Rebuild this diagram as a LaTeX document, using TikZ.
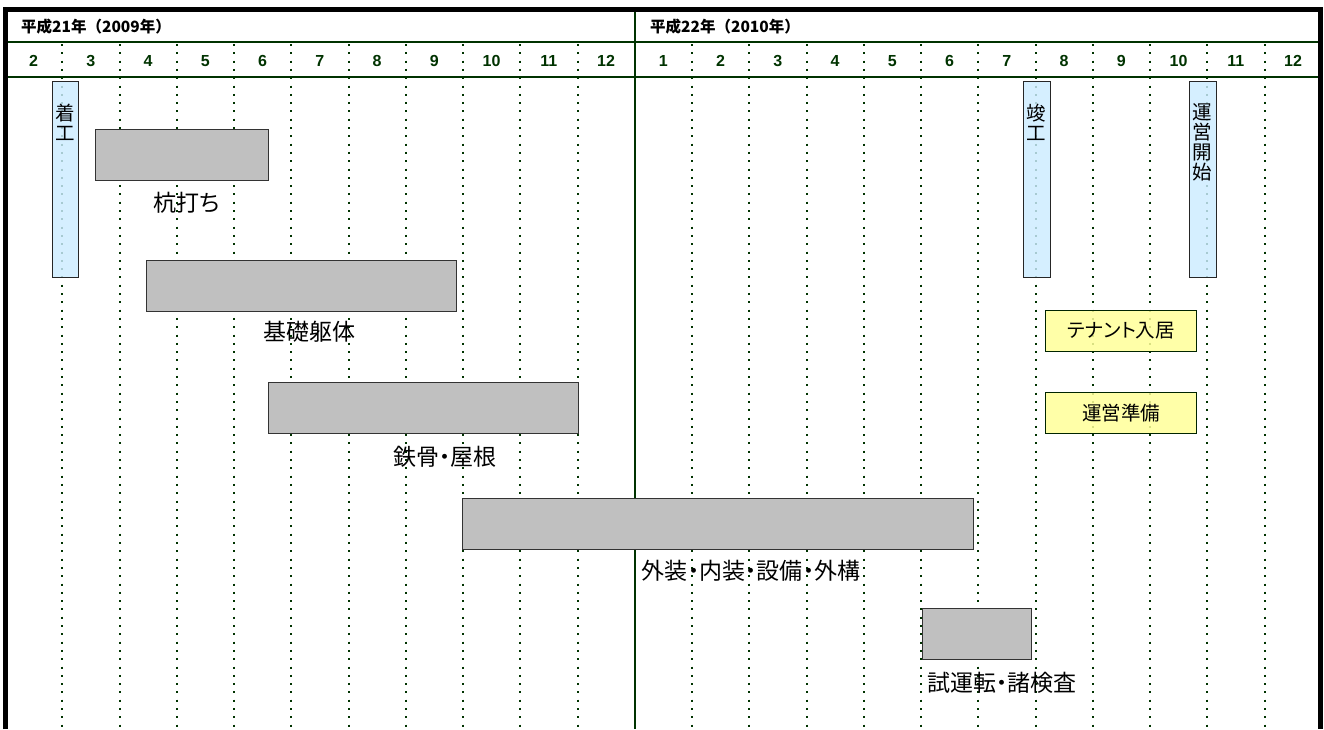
\documentclass[tikz,border=0pt]{standalone}
\usepackage{fontspec}
\setmainfont{Liberation Sans}
\newfontfamily\jp[RawFeature=+palt]{Noto Sans CJK JP}
\newfontfamily\jpw{Noto Sans CJK JP}
\definecolor{dgreen}{HTML}{003300}
\definecolor{mblue}{HTML}{CCECFF}
\definecolor{myel}{HTML}{FFFF99}
\definecolor{bgray}{HTML}{C0C0C0}
\tikzset{
  dotline/.style={draw=dgreen, line width=2pt, dash pattern=on 2pt off 6.3pt},
  gline/.style={draw=dgreen, line width=2.2pt},
  frameline/.style={draw=black, line width=4.5pt},
  gbar/.style={draw=black!80, line width=1.4pt, fill=bgray, inner sep=0pt, anchor=north west},
  mbar/.style={draw=black!85, line width=1.2pt, fill=mblue, fill opacity=0.82, inner sep=0pt, anchor=north west},
  ybox/.style={draw=dgreen!70!black, line width=1.2pt, fill=myel, fill opacity=0.85, inner sep=0pt, anchor=north west},
  ytext/.style={inner sep=0pt, font=\jp\fontsize{19.5}{19.5}\selectfont},
  mtext/.style={inner sep=0pt, anchor=north, align=center, font=\jp\fontsize{19.5}{20}\selectfont},
  blabel/.style={inner sep=0pt, font=\jp\fontsize{23}{23}\selectfont},
  month/.style={inner sep=0pt, text=dgreen, font=\bfseries\fontsize{16}{16}\selectfont},
  year/.style={inner sep=0pt, anchor=west, font=\jpw\bfseries\fontsize{15.5}{15.5}\selectfont}
}
\begin{document}
\begin{tikzpicture}[x=1pt,y=-1pt]
\useasboundingbox (0,0) rectangle (1324,729);
\fill[white] (0,0) rectangle (1324,729);
% grid
\foreach \i in {1,...,10,12,13,...,22}
  \draw[dotline] ({5+57.25*\i},44) -- ({5+57.25*\i},729);
\draw[gline] (634.75,9) -- (634.75,729);
\draw[gline] (5,42) -- (1320,42);
\draw[gline] (5,77) -- (1320,77);
% header
\node[year] (y1) at (21,27) {平成21年（2009年）};
\node[year] (y2) at (650,27) {平成22年（2010年）};
\foreach \m [count=\i from 0] in {2,...,12,1,2,...,12}
  \node[month] (m\i) at ({5+57.25*(\i+0.5)},61) {\m};
% gray bars
\node[gbar, minimum width=173pt, minimum height=51pt] (kui) at (95,129) {};
\node[blabel] (kuiL) at (187,203) {杭打ち};
\node[gbar, minimum width=310pt, minimum height=51pt] (kiso) at (146,260) {};
\node[blabel] (kisoL) at (309,332) {基礎躯体};
\node[gbar, minimum width=310pt, minimum height=51pt] (tekk) at (268,382) {};
\node[blabel] (tekkL) at (445,457) {鉄骨・屋根};
\node[gbar, minimum width=511pt, minimum height=51pt] (gais) at (462,498) {};
\node[blabel] (gaisL) at (751,571) {外装・内装・設備・外構};
\node[gbar, minimum width=109pt, minimum height=51pt] (shi) at (922,608) {};
\node[blabel] (shiL) at (1002,683) {試運転・諸検査};
% milestones
\node[mbar, minimum width=26pt, minimum height=196pt] (chaku) at (52,81) {};
\node[mtext] (chakuT) at (65,104) {着\\工};
\node[mbar, minimum width=27pt, minimum height=196pt] (shun) at (1023,81) {};
\node[mtext] (shunT) at (1036.5,104) {竣\\工};
\node[mbar, minimum width=27pt, minimum height=196pt] (unei) at (1189,81) {};
\node[mtext] (uneiT) at (1202.5,103) {運\\営\\開\\始};
% yellow boxes
\node[ybox, minimum width=151pt, minimum height=41pt] (ten) at (1045,310) {};
\node[ytext] (tenT) at (ten.center) {テナント入居};
\node[ybox, minimum width=151pt, minimum height=41pt] (jun) at (1045,392) {};
\node[ytext] (junT) at (jun.center) {運営準備};
% frame
\draw[frameline] (5.5,729) -- (5.5,9.5) -- (1320.5,9.5) -- (1320.5,729);
\end{tikzpicture}
\end{document}
